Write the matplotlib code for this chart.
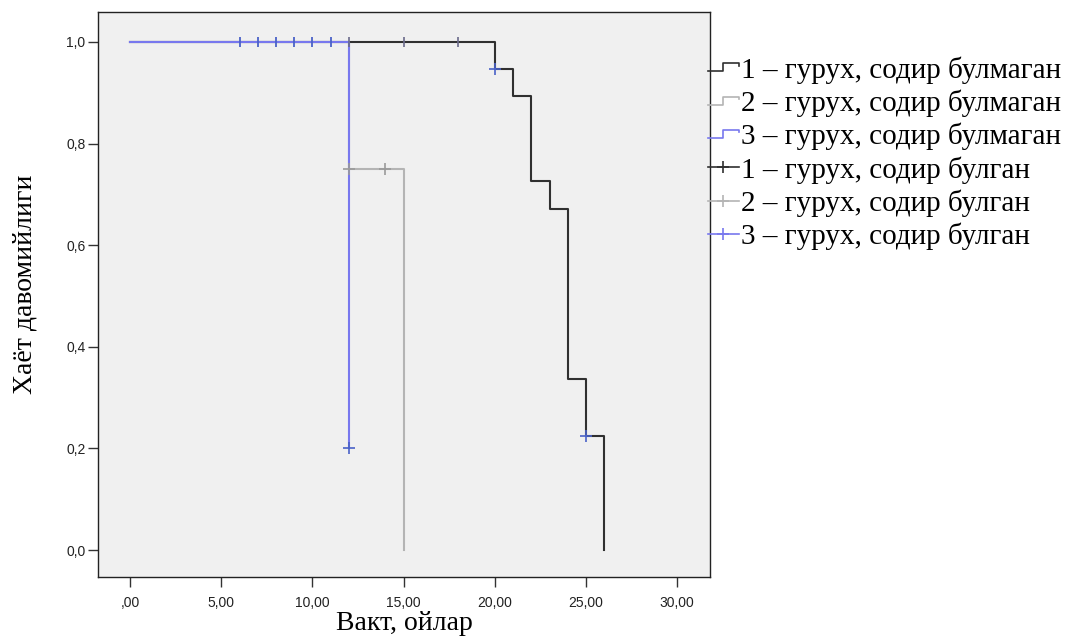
import matplotlib
matplotlib.use("Agg")
import matplotlib.pyplot as plt
from matplotlib.lines import Line2D
from matplotlib.legend_handler import HandlerBase

# Survival step curves (time, survival)
g1_t = [0, 20, 21, 22, 23, 24, 25, 26]
g1_s = [1.0, 0.947, 0.894, 0.726, 0.671, 0.336, 0.224, 0.0]
g2_t = [0, 12, 15]
g2_s = [1.0, 0.75, 0.0]
g3_t = [0, 12]
g3_s = [1.0, 0.2]

# Censored observations
g1_cens_t = [12, 15, 18]
g1_cens_s = [1.0, 1.0, 1.0]
g1_cens_blue_t = [20, 25]
g1_cens_blue_s = [0.947, 0.224]
g2_cens_t = [12, 14]
g2_cens_s = [0.75, 0.75]
g3_cens_t = [6, 7, 8, 9, 10, 11, 12]
g3_cens_s = [1.0, 1.0, 1.0, 1.0, 1.0, 1.0, 0.2]

labels = ["1 – гурух, содир булмаган", "2 – гурух, содир булмаган",
          "3 – гурух, содир булмаган", "1 – гурух, содир булган",
          "2 – гурух, содир булган", "3 – гурух, содир булган"]

xticks = [0, 5, 10, 15, 20, 25, 30]
xtick_labels = [",00", "5,00", "10,00", "15,00", "20,00", "25,00", "30,00"]
yticks = [0.0, 0.2, 0.4, 0.6, 0.8, 1.0]
ytick_labels = ["0,0", "0,2", "0,4", "0,6", "0,8", "1,0"]

c1 = "#303030"
c2 = "#b4b4b4"
c3 = "#7878ee"
c3d = "#4a62c8"

fig = plt.figure(figsize=(10.7, 6.37), dpi=100)
ax = fig.add_axes([0.0916, 0.0942, 0.572, 0.887])
ax.set_facecolor("#f0f0f0")

def steps(t, s):
    xs, ys = [], []
    for i in range(len(t)):
        if i > 0:
            xs.append(t[i]); ys.append(s[i - 1])
        xs.append(t[i]); ys.append(s[i])
    return xs, ys

x2, y2 = steps(g2_t, g2_s)
ax.plot(x2, y2, color=c2, lw=1.5, zorder=2)
x1, y1 = steps(g1_t, g1_s)
ax.plot(x1, y1, color=c1, lw=1.5, zorder=3)
x3, y3 = steps(g3_t, g3_s)
ax.plot(x3, y3, color=c3, lw=1.5, zorder=4)

ms = 9
ax.plot(g2_cens_t, g2_cens_s, ls="none", marker="+", color="#9a9a9a", ms=ms, mew=1.2, zorder=5)
ax.plot(g1_cens_t, g1_cens_s, ls="none", marker="|", color="#6a6a8a", ms=7, mew=1.2, zorder=5)
ax.plot(g3_cens_t[:-1], g3_cens_s[:-1], ls="none", marker="|", color=c3d, ms=7, mew=1.3, zorder=6)
ax.plot(g3_cens_t[-1:], g3_cens_s[-1:], ls="none", marker="+", color=c3d, ms=ms, mew=1.2, zorder=6)
ax.plot(g1_cens_blue_t, g1_cens_blue_s, ls="none", marker="+", color=c3d, ms=ms, mew=1.2, zorder=6)

ax.set_xlim(-1.76, 31.8)
ax.set_ylim(-0.053, 1.059)
ax.set_xticks(xticks)
ax.set_xticklabels(xtick_labels, fontsize=10, family="Liberation Sans", color="#222222")
ax.set_yticks(yticks)
ax.set_yticklabels(ytick_labels, fontsize=10, family="Liberation Sans", color="#222222")
ax.tick_params(direction="out", length=7, width=1, color="#333333")
ax.tick_params(axis="x", pad=7)
ax.tick_params(axis="y", pad=2)
for sp in ax.spines.values():
    sp.set_color("#222222")
    sp.set_linewidth(1.0)

fig.text(404 / 1070, 1 - 623 / 637, "Вакт, ойлар", fontsize=20,
         family="Liberation Serif", ha="center", va="center")
fig.text(25 / 1070, 1 - 284 / 637, "Хаёт давомийлиги", fontsize=20,
         family="Liberation Serif", ha="center", va="center", rotation=90)


class StepHandler(HandlerBase):
    def __init__(self, color):
        super().__init__()
        self.color = color

    def create_artists(self, legend, orig_handle, xdescent, ydescent,
                       width, height, fontsize, trans):
        x0 = -xdescent
        yb = -ydescent + height * 0.3
        yt = -ydescent + height * 0.7
        ye = -ydescent + height * 0.58
        xs = [x0, x0 + width * 0.5, x0 + width * 0.5, x0 + width, x0 + width]
        ys = [yb, yb, yt, yt, ye]
        ln = Line2D(xs, ys, color=self.color, lw=1.2, transform=trans)
        return [ln]


h1 = Line2D([], [], color=c1)
h2 = Line2D([], [], color=c2)
h3 = Line2D([], [], color=c3)
h4 = Line2D([], [], color=c1, marker="+", ms=9, mew=1.2, lw=1.2)
h5 = Line2D([], [], color=c2, marker="+", ms=9, mew=1.2, lw=1.2)
h6 = Line2D([], [], color=c3, marker="+", ms=9, mew=1.2, lw=1.2)

leg = fig.legend([h1, h2, h3, h4, h5, h6], labels,
                 handler_map={h1: StepHandler(c1), h2: StepHandler(c2), h3: StepHandler(c3)},
                 loc="upper left", bbox_to_anchor=(0.6617, 0.912),
                 frameon=False, prop={"family": "Liberation Serif", "size": 21},
                 handlelength=1.06, handletextpad=0.08, labelspacing=0.2,
                 borderaxespad=0.0, borderpad=0.0)

fig.savefig("out.png", dpi=100, facecolor="white")
